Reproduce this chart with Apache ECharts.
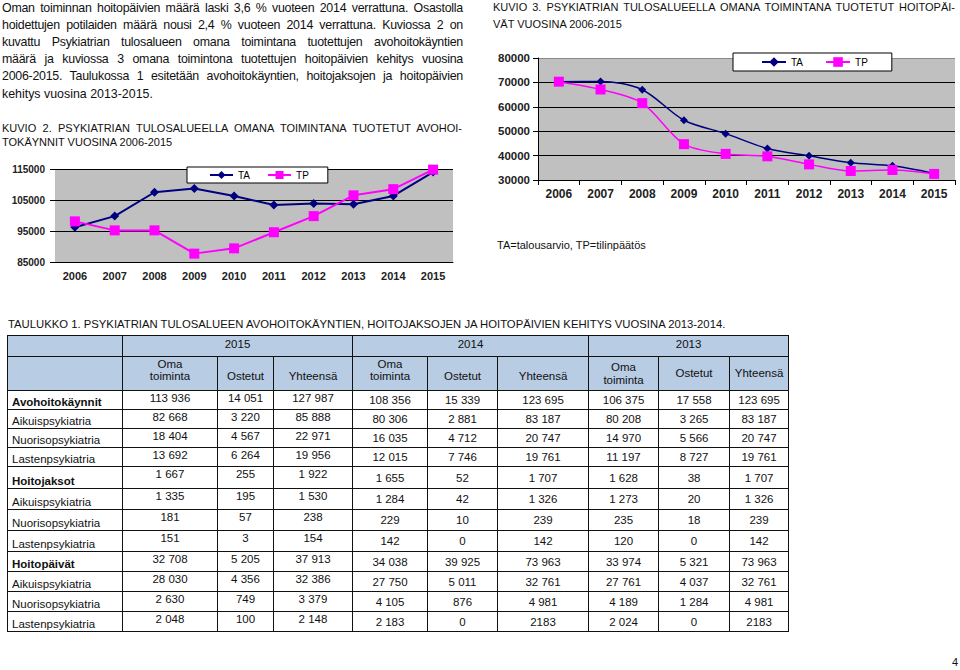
<!DOCTYPE html>
<html><head><meta charset="utf-8">
<script src="https://cdn.jsdelivr.net/npm/echarts@6/dist/echarts.min.js"></script>
<style>
html,body{margin:0;padding:0;background:#fff}
body{width:960px;height:670px;position:relative;overflow:hidden;font-family:"Liberation Sans",Arial,sans-serif;color:#111}
.abs{position:absolute}
.jl{text-align:justify;text-align-last:justify}
.para{left:2px;top:-0.5px;width:461px;font-size:12.4px;line-height:17.2px}
.para .jl{letter-spacing:-0.25px}
.k2{left:2px;top:120.6px;width:460px;font-size:11px;line-height:14.4px}
.k3{left:493px;top:-0.8px;width:462px;font-size:11px;line-height:16.4px}
table{position:absolute;left:7px;top:335px;border-collapse:collapse;table-layout:fixed;width:781px;font-size:11.5px}
td{border:1px solid #111;padding:0;text-align:center;line-height:14px;overflow:hidden;white-space:nowrap}
tr.h1 td{background:#b8cce4;vertical-align:top;padding-top:1px}
tr.h2 td{background:#b8cce4;vertical-align:bottom;padding-bottom:7px;line-height:12.7px}
tr.h2 td.s13{vertical-align:middle;padding-bottom:0}
td.lab{text-align:left;padding-left:4px;vertical-align:bottom}
td.c15{vertical-align:top}
td.c14,td.c13{vertical-align:middle}
</style></head>
<body>
<div class="abs para">
<div class="jl">Oman toiminnan hoitopäivien määrä laski 3,6 % vuoteen 2014 verrattuna. Osastolla</div>
<div class="jl">hoidettujen potilaiden määrä nousi 2,4 % vuoteen 2014 verrattuna. Kuviossa 2 on</div>
<div class="jl">kuvattu Psykiatrian tulosalueen omana toimintana tuotettujen avohoitokäyntien</div>
<div class="jl">määrä ja kuviossa 3 omana toimintona tuotettujen hoitopäivien kehitys vuosina</div>
<div class="jl">2006-2015. Taulukossa 1 esitetään avohoitokäyntien, hoitojaksojen ja hoitopäivien</div>
<div>kehitys vuosina 2013-2015.</div>
</div>
<div class="abs k2">
<div class="jl">KUVIO 2. PSYKIATRIAN TULOSALUEELLA OMANA TOIMINTANA TUOTETUT AVOHOI-</div>
<div>TOKÄYNNIT VUOSINA 2006-2015</div>
</div>
<div class="abs k3">
<div class="jl">KUVIO 3. PSYKIATRIAN TULOSALUEELLA OMANA TOIMINTANA TUOTETUT HOITOPÄI-</div>
<div>VÄT VUOSINA 2006-2015</div>
</div>
<div class="abs" style="left:497px;top:237px;font-size:11px;line-height:16px">TA=talousarvio, TP=tilinpäätös</div>
<div class="abs" style="left:8px;top:316px;font-size:11.3px;line-height:16px;white-space:nowrap">TAULUKKO 1. PSYKIATRIAN TULOSALUEEN AVOHOITOKÄYNTIEN, HOITOJAKSOJEN JA HOITOPÄIVIEN KEHITYS VUOSINA 2013-2014.</div>
<div class="abs" style="left:952px;top:654px;font-size:11px;line-height:16px">4</div>

<div id="c1" class="abs" style="left:0;top:150px;width:470px;height:140px"></div>
<div id="c2" class="abs" style="left:490px;top:40px;width:470px;height:180px"></div>
<table id="tbl"></table>

<script>
// ---- chart data ----
const years = ['2006','2007','2008','2009','2010','2011','2012','2013','2014','2015'];
const kuvio2TA = [96200, 99800, 107500, 108700, 106300, 103400, 103900, 103600, 106300, 114000];
const kuvio2TP = [98100, 95200, 95200, 87700, 89400, 94600, 99800, 106500, 108500, 114800];
const kuvio3TA = [70300, 70400, 67000, 54500, 49000, 42900, 39900, 37100, 35800, 32700];
const kuvio3TP = [70300, 67100, 61500, 44700, 40700, 39700, 36400, 33700, 34100, 32500];

// ---- table data ----
const tableYears = ['2015','2014','2013'];
const subHeads = ['Oma<br>toiminta','Ostetut','Yhteensä'];
const rowLabels = ['Avohoitokäynnit','Aikuispsykiatria','Nuorisopsykiatria','Lastenpsykiatria','Hoitojaksot','Aikuispsykiatria','Nuorisopsykiatria','Lastenpsykiatria','Hoitopäivät','Aikuispsykiatria','Nuorisopsykiatria','Lastenpsykiatria'];
const boldRows = [0, 4, 8];
const values2015 = [['113 936','14 051','127 987'],['82 668','3 220','85 888'],['18 404','4 567','22 971'],['13 692','6 264','19 956'],['1 667','255','1 922'],['1 335','195','1 530'],['181','57','238'],['151','3','154'],['32 708','5 205','37 913'],['28 030','4 356','32 386'],['2 630','749','3 379'],['2 048','100','2 148']];
const values2014 = [['108 356','15 339','123 695'],['80 306','2 881','83 187'],['16 035','4 712','20 747'],['12 015','7 746','19 761'],['1 655','52','1 707'],['1 284','42','1 326'],['229','10','239'],['142','0','142'],['34 038','39 925','73 963'],['27 750','5 011','32 761'],['4 105','876','4 981'],['2 183','0','2183']];
const values2013 = [['106 375','17 558','123 695'],['80 208','3 265','83 187'],['14 970','5 566','20 747'],['11 197','8 727','19 761'],['1 628','38','1 707'],['1 273','20','1 326'],['235','18','239'],['120','0','142'],['33 974','5 321','73 963'],['27 761','4 037','32 761'],['4 189','1 284','4 981'],['2 024','0','2183']];

// layout (not data)
const colWidths = [115,95,56,79,75,70,91,70,71,59];
const rowHeights = [19,19,19,19,22,21,21,21,20,20,20,20];

(function buildTable(){
  let h = '<colgroup>' + colWidths.map(w => '<col style="width:' + w + 'px">').join('') + '</colgroup>';
  h += '<tr class="h1" style="height:21px"><td></td>' + tableYears.map(y => '<td colspan="3">' + y + '</td>').join('') + '</tr>';
  h += '<tr class="h2" style="height:34px"><td></td>';
  tableYears.forEach((y, i) => { subHeads.forEach(s => { h += '<td' + (i === 2 ? ' class="s13"' : '') + '>' + s + '</td>'; }); });
  h += '</tr>';
  const sets = [[values2015,'c15'],[values2014,'c14'],[values2013,'c13']];
  rowLabels.forEach((lab, r) => {
    h += '<tr style="height:' + rowHeights[r] + 'px"><td class="lab"' + (boldRows.includes(r) ? ' style="font-weight:bold"' : '') + '>' + lab + '</td>';
    sets.forEach(([vals, cls]) => { vals[r].forEach(v => { h += '<td class="' + cls + '">' + v + '</td>'; }); });
    h += '</tr>';
  });
  document.getElementById('tbl').innerHTML = h;
})();

const FONT = '"Liberation Sans", Arial, sans-serif';
const NAVY = '#000080', MAG = '#ff00ff';
const plain = v => String(v);

const c1 = echarts.init(document.getElementById('c1'), null, {renderer: 'svg'});
c1.setOption({
  animation: false,
  textStyle: {fontFamily: FONT},
  grid: {left: 55, top: 19, width: 398, height: 93, show: true, backgroundColor: '#c0c0c0', borderWidth: 0},
  legend: {
    left: 187, top: 17, padding: [3, 19, 3, 22], itemWidth: 23, itemHeight: 10, itemGap: 17,
    backgroundColor: '#fff', borderColor: '#000', borderWidth: 1,
    textStyle: {fontSize: 10, color: '#000', fontFamily: FONT},
    data: ['TA', 'TP']
  },
  xAxis: {
    type: 'category', data: years, boundaryGap: true,
    axisLine: {lineStyle: {color: '#000', width: 1}},
    axisTick: {show: false},
    axisLabel: {color: '#222', fontSize: 11, fontWeight: 'bold', margin: 8, fontFamily: FONT}
  },
  yAxis: {
    type: 'value', min: 85000, max: 115000, interval: 10000,
    axisLine: {show: false},
    axisTick: {show: true, length: 5, lineStyle: {color: '#000'}},
    splitLine: {lineStyle: {color: '#000', width: 1}},
    axisLabel: {color: '#222', fontSize: 10, fontWeight: 'bold', margin: 10, fontFamily: FONT, formatter: plain}
  },
  series: [
    {name: 'TA', type: 'line', data: kuvio2TA, symbol: 'diamond', symbolSize: 9, color: NAVY, lineStyle: {width: 2}, itemStyle: {color: NAVY}},
    {name: 'TP', type: 'line', data: kuvio2TP, symbol: 'rect', symbolSize: 10, color: MAG, lineStyle: {width: 2}, itemStyle: {color: MAG}}
  ]
});

const c2 = echarts.init(document.getElementById('c2'), null, {renderer: 'svg'});
c2.setOption({
  animation: false,
  textStyle: {fontFamily: FONT},
  grid: {left: 48, top: 18, width: 417, height: 122, show: true, backgroundColor: '#c0c0c0', borderWidth: 0},
  legend: {
    left: 243, top: 13, padding: [4, 24, 4, 28], itemWidth: 24, itemHeight: 12, itemGap: 22,
    backgroundColor: '#fff', borderColor: '#000', borderWidth: 1,
    textStyle: {fontSize: 10, color: '#000', fontFamily: FONT},
    data: ['TA', 'TP']
  },
  xAxis: {
    type: 'category', data: years, boundaryGap: true,
    axisLine: {lineStyle: {color: '#000', width: 1}},
    axisTick: {show: true, length: 5, lineStyle: {color: '#000'}},
    axisLabel: {color: '#222', fontSize: 12, fontWeight: 'bold', margin: 8, fontFamily: FONT}
  },
  yAxis: {
    type: 'value', min: 30000, max: 80000, interval: 10000,
    axisLine: {show: true, lineStyle: {color: '#000'}},
    axisTick: {show: true, length: 5, lineStyle: {color: '#000'}},
    splitLine: {lineStyle: {color: ['#000', '#000', '#000', '#000', '#000', '#8a8a8a'], width: 1}},
    axisLabel: {color: '#222', fontSize: 11.5, fontWeight: 'bold', margin: 8, fontFamily: FONT, formatter: plain}
  },
  series: [
    {name: 'TA', type: 'line', data: kuvio3TA, smooth: 0.3, symbol: 'diamond', symbolSize: 8, color: NAVY, lineStyle: {width: 1.5}, itemStyle: {color: NAVY}},
    {name: 'TP', type: 'line', data: kuvio3TP, smooth: 0.3, symbol: 'rect', symbolSize: 10, color: MAG, lineStyle: {width: 1.5}, itemStyle: {color: MAG}}
  ]
});
</script>
</body></html>
